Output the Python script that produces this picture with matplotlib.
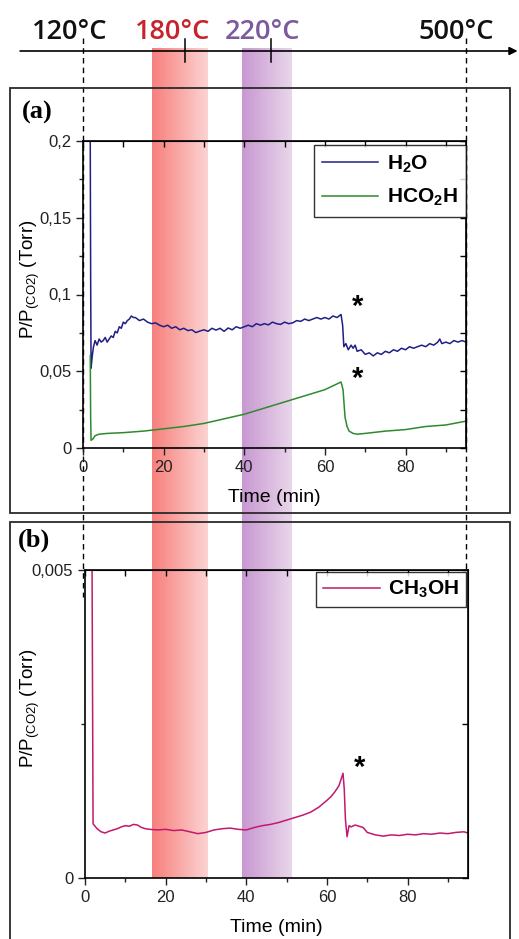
import matplotlib
matplotlib.use("Agg")
import numpy as np
import matplotlib.pyplot as plt
from matplotlib.colors import LinearSegmentedColormap
from matplotlib.patches import Rectangle

plt.rcParams['font.family'] = ['Liberation Sans', 'DejaVu Sans']
plt.rcParams['mathtext.fontset'] = 'custom'
plt.rcParams['mathtext.rm'] = 'Liberation Sans'
plt.rcParams['mathtext.it'] = 'Liberation Sans:italic'
plt.rcParams['mathtext.bf'] = 'Liberation Sans:bold'

# ---- data ----
h2o_t = [1.7, 1.8, 1.9, 2.0, 2.3, 2.6, 3.0, 3.5, 4.0, 4.5, 5.0, 5.5, 6.0, 6.5, 7.0, 7.5, 8.0,
         8.5, 9.0, 9.5, 10, 10.5, 11, 11.5, 12, 12.5, 13, 14, 15, 16, 17, 18, 19, 20, 21,
         22, 23, 24, 25, 26, 27, 28, 29, 30, 31, 32, 33, 34, 35, 36, 37, 38, 39, 40, 41,
         42, 43, 44, 45, 46, 47, 48, 49, 50, 51, 52, 53, 54, 55, 56, 57, 58, 59, 60, 61,
         62, 63, 64, 64.4, 64.7, 65.2, 65.8, 66.5, 67, 67.5, 68, 69, 70, 71, 72, 73, 74,
         75, 76, 77, 78, 79, 80, 81, 82, 83, 84, 85, 86, 87, 88, 88.5, 89, 90, 91, 92, 93,
         94, 95]
h2o_p = [0.25, 0.20, 0.11, 0.052, 0.060, 0.066, 0.070, 0.067, 0.071, 0.069, 0.070, 0.072,
         0.069, 0.071, 0.073, 0.072, 0.076, 0.075, 0.079, 0.078, 0.082, 0.081, 0.083, 0.084,
         0.086, 0.085, 0.085, 0.083, 0.084, 0.082, 0.081, 0.0815, 0.080, 0.079, 0.080, 0.078,
         0.079, 0.077, 0.078, 0.0765, 0.077, 0.0752, 0.0762, 0.077, 0.076, 0.078, 0.0768,
         0.078, 0.076, 0.0782, 0.077, 0.079, 0.078, 0.079, 0.080, 0.079, 0.081, 0.080, 0.081,
         0.0802, 0.082, 0.081, 0.0805, 0.082, 0.081, 0.0815, 0.083, 0.0825, 0.084, 0.083,
         0.084, 0.085, 0.084, 0.085, 0.084, 0.086, 0.085, 0.087, 0.080, 0.066, 0.068, 0.064,
         0.067, 0.065, 0.067, 0.063, 0.064, 0.061, 0.062, 0.060, 0.062, 0.061, 0.063, 0.062,
         0.064, 0.063, 0.065, 0.064, 0.066, 0.065, 0.066, 0.067, 0.066, 0.068, 0.067, 0.069,
         0.071, 0.068, 0.069, 0.068, 0.070, 0.069, 0.070, 0.069]

hcooh_t = [1.8, 1.9, 2.0, 2.5, 3, 4, 6, 10, 15, 20, 25, 30, 35, 40, 45, 50, 55, 60, 64,
           64.5, 65, 65.5, 66, 67, 68, 70, 75, 80, 85, 90, 94, 95]
hcooh_p = [0.06, 0.02, 0.005, 0.006, 0.008, 0.009, 0.0095, 0.010, 0.011, 0.0125, 0.014,
           0.016, 0.019, 0.022, 0.026, 0.030, 0.034, 0.038, 0.043, 0.038, 0.020, 0.014,
           0.011, 0.0095, 0.009, 0.0095, 0.011, 0.012, 0.014, 0.015, 0.017, 0.0175]

meoh_t = [1.6, 1.75, 2.0, 2.5, 3, 4, 5, 6, 7, 8, 9, 10, 11, 12, 13, 14, 15, 16, 18, 20,
          22, 24, 26, 28, 30, 32, 34, 36, 38, 40, 42, 44, 46, 48, 50, 52, 54, 56, 58, 60,
          61, 62, 63, 64, 64.3, 64.6, 65, 65.5, 66, 67, 68, 69, 70, 72, 74, 76, 78, 80,
          82, 84, 86, 88, 90, 92, 94, 95]
meoh_p = [6.0e-3, 5.0e-3, 0.88e-3, 0.84e-3, 0.80e-3, 0.75e-3, 0.73e-3, 0.76e-3, 0.78e-3,
          0.80e-3, 0.83e-3, 0.85e-3, 0.84e-3, 0.87e-3, 0.86e-3, 0.82e-3, 0.80e-3, 0.79e-3,
          0.78e-3, 0.79e-3, 0.77e-3, 0.78e-3, 0.75e-3, 0.72e-3, 0.74e-3, 0.78e-3, 0.80e-3,
          0.81e-3, 0.79e-3, 0.78e-3, 0.82e-3, 0.85e-3, 0.87e-3, 0.90e-3, 0.94e-3, 0.98e-3,
          1.02e-3, 1.07e-3, 1.15e-3, 1.26e-3, 1.32e-3, 1.40e-3, 1.50e-3, 1.70e-3, 1.45e-3,
          0.95e-3, 0.67e-3, 0.85e-3, 0.83e-3, 0.86e-3, 0.84e-3, 0.82e-3, 0.74e-3, 0.70e-3,
          0.68e-3, 0.70e-3, 0.69e-3, 0.71e-3, 0.70e-3, 0.72e-3, 0.71e-3, 0.73e-3, 0.72e-3,
          0.74e-3, 0.75e-3, 0.73e-3]

band_180 = (17.1, 30.8)
band_220 = (39.5, 51.9)
temp_labels = ["120°C", "180°C", "220°C", "500°C"]
temp_label_t = [-3.2, 22.3, 44.4, 92.6]
temp_ticks = [25.3, 46.6]
star_a = [(68, 0.092), (68, 0.045)]
star_b = (68, 0.00179)

yticks_a = [0, 0.05, 0.1, 0.15, 0.2]
yticklabels_a = ["0", "0,05", "0,1", "0,15", "0,2"]
yticks_b = [0, 0.005]
yticklabels_b = ["0", "0,005"]
xticks = [0, 20, 40, 60, 80]

W, H = 519, 939


def rect(l, t, r, b):
    return [l / W, 1 - b / H, (r - l) / W, (b - t) / H]


fig = plt.figure(figsize=(W / 100, H / 100), dpi=100)

# background layer: x in minutes (aligned with panel a), y in pixels
bg = fig.add_axes([0, 0, 1, 1], zorder=-1)
bg.axis('off')
k = 95 / 383
for (x0, x1), c0, c1 in [(band_180, '#f7807c', '#fbd3d2'), (band_220, '#c898d2', '#e9d6ea')]:
    cm = LinearSegmentedColormap.from_list('g', [c0, c1])
    bg.imshow(np.linspace(0, 1, 64)[None, :], cmap=cm, aspect='auto',
              extent=(x0, x1, 878, 48), interpolation='bilinear')
bg.set_xlim(-83 * k, (W - 83) * k)
bg.set_ylim(H, 0)

# temperature axis
bg.annotate('', xy=(107.8, 51), xytext=(-15.6, 51), annotation_clip=False,
            arrowprops=dict(arrowstyle='-|>', color='k', lw=1.2, mutation_scale=12,
                            shrinkA=0, shrinkB=0))
for t in temp_ticks:
    bg.plot([t, t], [39, 62], color='k', lw=1.1)
for lab, t, c in zip(temp_labels, temp_label_t, ['#111111', '#c8232c', '#7b5a9f', '#111111']):
    bg.text(t, 32, lab, ha='center', va='center', color=c, fontsize=19.5,
            fontweight='semibold', family=['Open Sans', 'DejaVu Sans'])
bg.plot([0, 0], [38, 597], color='k', lw=1.0, ls=(0, (4, 3)))
bg.plot([95, 95], [38, 570], color='k', lw=1.0, ls=(0, (4, 3)))

# panel frames
for t, b in [(88, 513), (522, 945)]:
    fig.add_artist(Rectangle((10 / W, 1 - b / H), 500 / W, (b - t) / H,
                             transform=fig.transFigure, fill=False, ec='#2a2a2a', lw=1.3))
fig.text(22 / W, 1 - 112 / H, '(a)', fontsize=19, fontweight='bold',
         family='Liberation Serif', va='center')
fig.text(18 / W, 1 - 540 / H, '(b)', fontsize=19, fontweight='bold',
         family='Liberation Serif', va='center')


def style(ax, yt, ytl, yminor, ylim):
    ax.set_facecolor('none')
    ax.set_xlim(0, 95)
    ax.set_ylim(*ylim)
    ax.set_xticks(xticks)
    ax.set_xticks([10, 30, 50, 70, 90], minor=True)
    ax.set_yticks(yt)
    ax.set_yticklabels(ytl)
    ax.set_yticks(yminor, minor=True)
    ax.tick_params(which='both', direction='out', labelsize=12, width=1, colors='#222222')
    ax.tick_params(which='major', length=5)
    ax.tick_params(which='minor', length=3)
    for s in ax.spines.values():
        s.set_linewidth(1.2)
    top = ax.secondary_xaxis('top')
    top.set_xticks(xticks)
    top.set_xticks([10, 30, 50, 70, 90], minor=True)
    top.tick_params(which='both', direction='in', labeltop=False, length=4, width=1)
    right = ax.secondary_yaxis('right')
    right.set_yticks(yt)
    right.set_yticks(yminor, minor=True)
    right.tick_params(which='both', direction='in', labelright=False, length=4, width=1)
    ax.set_xlabel('Time (min)', fontsize=14)
    ax.xaxis.label.set_va('center')
    ax.set_ylabel(r'P/P$_{\rm (CO2)}$ (Torr)', fontsize=13.5)
    ax.yaxis.label.set_va('center')


ax_a = fig.add_axes(rect(83, 141, 466, 448))
ax_a.plot(h2o_t, h2o_p, color='#1f1f85', lw=1.1, label=r'$\mathbf{H_2O}$')
ax_a.plot(hcooh_t, hcooh_p, color='#2e8a2e', lw=1.1, label=r'$\mathbf{HCO_2H}$')
style(ax_a, yticks_a, yticklabels_a, [0.025, 0.075, 0.125, 0.175], (0, 0.2))
ax_a.xaxis.set_label_coords(0.5, -49 / 307)
ax_a.yaxis.set_label_coords(-53 / 383, 0.55)
for x, y in star_a:
    ax_a.text(x, y, '*', fontsize=21, fontweight='bold', ha='center', va='center')
leg = ax_a.legend(loc='upper right', bbox_to_anchor=(1.0, 0.987), borderaxespad=0,
                  fancybox=False, edgecolor='k', fontsize=15, handlelength=2.7,
                  labelspacing=0.6, borderpad=0.4, handletextpad=0.4)
leg.get_frame().set_linewidth(1.0)

ax_b = fig.add_axes(rect(85, 570, 468, 878))
ax_b.plot(meoh_t, meoh_p, color='#c2186e', lw=1.1, label=r'$\mathbf{CH_3OH}$')
style(ax_b, yticks_b, yticklabels_b, [0.0025], (0, 0.005))
ax_b.xaxis.set_label_coords(0.5, -49 / 308)
ax_b.yaxis.set_label_coords(-55 / 383, 0.55)
ax_b.text(*star_b, '*', fontsize=21, fontweight='bold', ha='center', va='center')
leg = ax_b.legend(loc='upper right', bbox_to_anchor=(0.995, 0.995), borderaxespad=0,
                  fancybox=False, edgecolor='k', fontsize=15, handlelength=2.7,
                  borderpad=0.35, handletextpad=0.4)
leg.get_frame().set_linewidth(1.0)

fig.savefig('out.png', dpi=100)
